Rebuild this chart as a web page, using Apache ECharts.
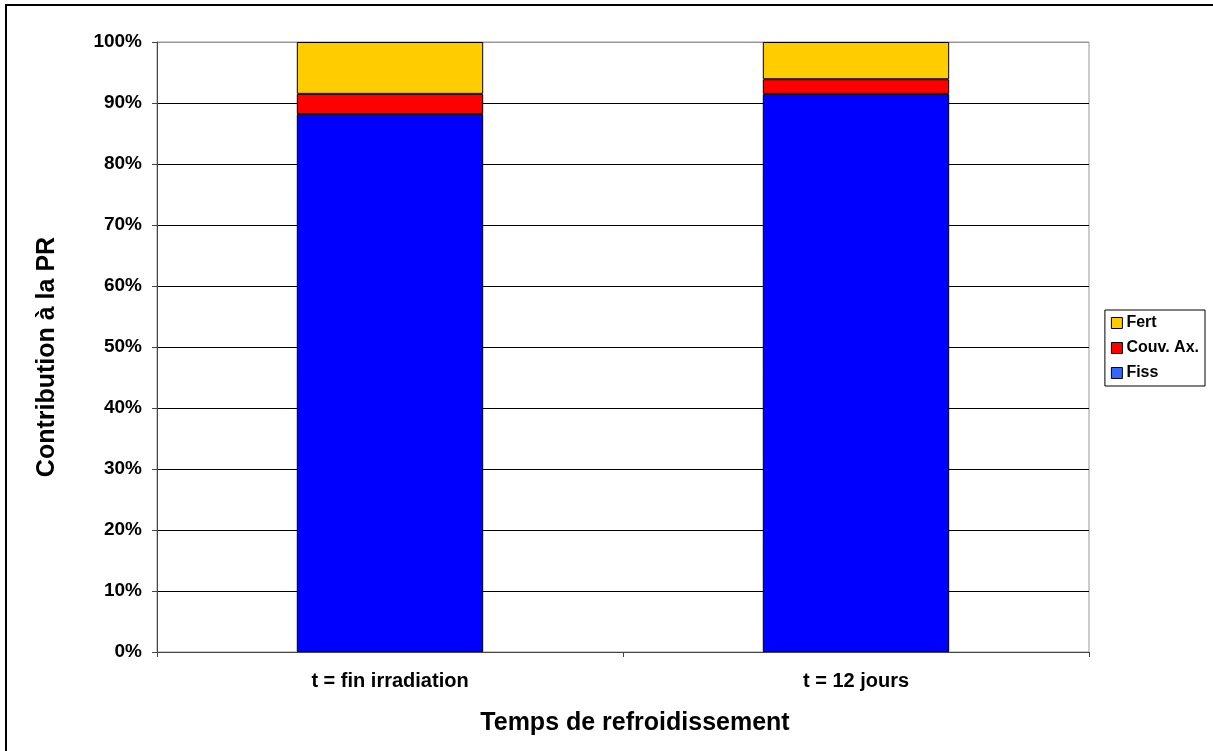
<!DOCTYPE html>
<html>
<head>
<meta charset="utf-8">
<script src="https://cdn.jsdelivr.net/npm/echarts@6/dist/echarts.min.js"></script>
<style>
html,body{margin:0;padding:0;background:#fff;}
#chart{width:1213px;height:751px;}
</style>
</head>
<body>
<div id="chart"></div>
<script>
const categories = ['t = fin irradiation', 't = 12 jours'];
const fiss = [88.2, 91.5];
const couv = [3.3, 2.4];
const fert = [8.5, 6.1];
const yTicks = [0, 10, 20, 30, 40, 50, 60, 70, 80, 90, 100];

const chart = echarts.init(document.getElementById('chart'), null, {renderer: 'canvas'});
const font = '"Liberation Sans", Arial, sans-serif';
const gridColors = yTicks.map((v, i) => i === yTicks.length - 1 ? '#999999' : '#000000');

chart.setOption({
  animation: false,
  backgroundColor: '#ffffff',
  graphic: [{
    type: 'rect',
    shape: {x: 6, y: 5, width: 1240, height: 780},
    style: {fill: 'none', stroke: '#000', lineWidth: 2},
    silent: true
  }],
  grid: {
    left: 157, right: 124, top: 42, bottom: 99,
    show: true, borderColor: '#999999', borderWidth: 1, backgroundColor: 'transparent'
  },
  legend: {
    orient: 'vertical',
    right: 8,
    top: 310,
    itemWidth: 11,
    itemHeight: 11,
    itemGap: 9,
    padding: [5, 6, 5, 6],
    borderColor: '#000',
    borderWidth: 1,
    backgroundColor: '#fff',
    textStyle: {fontFamily: font, fontWeight: 'bold', fontSize: 16, color: '#000', padding: [0, 0, 0, -1]},
    data: [
      {name: 'Fert', icon: 'rect', itemStyle: {color: '#FFCC00', borderColor: '#000', borderWidth: 1}},
      {name: 'Couv. Ax.', icon: 'rect', itemStyle: {color: '#FF0000', borderColor: '#000', borderWidth: 1}},
      {name: 'Fiss', icon: 'rect', itemStyle: {color: '#3366FF', borderColor: '#000', borderWidth: 1}}
    ]
  },
  xAxis: {
    type: 'category',
    data: categories,
    name: 'Temps de refroidissement',
    nameLocation: 'middle',
    nameGap: 59,
    nameTextStyle: {fontFamily: font, fontWeight: 'bold', fontSize: 25, color: '#000', padding: [0, 0, 0, 24]},
    axisLine: {lineStyle: {color: '#444', width: 1}},
    axisTick: {show: true, length: 5, lineStyle: {color: '#444'}},
    axisLabel: {fontFamily: font, fontWeight: 'bold', fontSize: 20, color: '#000', margin: 19},
    splitLine: {show: false}
  },
  yAxis: {
    type: 'value',
    min: 0, max: 100, interval: 10,
    name: 'Contribution à la PR',
    nameLocation: 'middle',
    nameGap: 97,
    nameRotate: 90,
    nameTextStyle: {fontFamily: font, fontWeight: 'bold', fontSize: 25, color: '#000', padding: [0, 20, 0, 0]},
    axisLine: {show: true, lineStyle: {color: '#444', width: 1}},
    axisTick: {show: true, length: 5, lineStyle: {color: '#444'}},
    axisLabel: {fontFamily: font, fontWeight: 'bold', fontSize: 19, color: '#000', margin: 15, formatter: '{value}%'},
    splitLine: {show: true, lineStyle: {color: gridColors, width: 1}}
  },
  series: [
    {name: 'Fiss', type: 'bar', stack: 'pr', data: fiss, barWidth: '40%',
     itemStyle: {color: '#0000FF', borderColor: '#000', borderWidth: 1}},
    {name: 'Couv. Ax.', type: 'bar', stack: 'pr', data: couv, barWidth: '40%',
     itemStyle: {color: '#FF0000', borderColor: '#000', borderWidth: 1}},
    {name: 'Fert', type: 'bar', stack: 'pr', data: fert, barWidth: '40%',
     itemStyle: {color: '#FFCC00', borderColor: '#000', borderWidth: 1}}
  ]
});
</script>
</body>
</html>
